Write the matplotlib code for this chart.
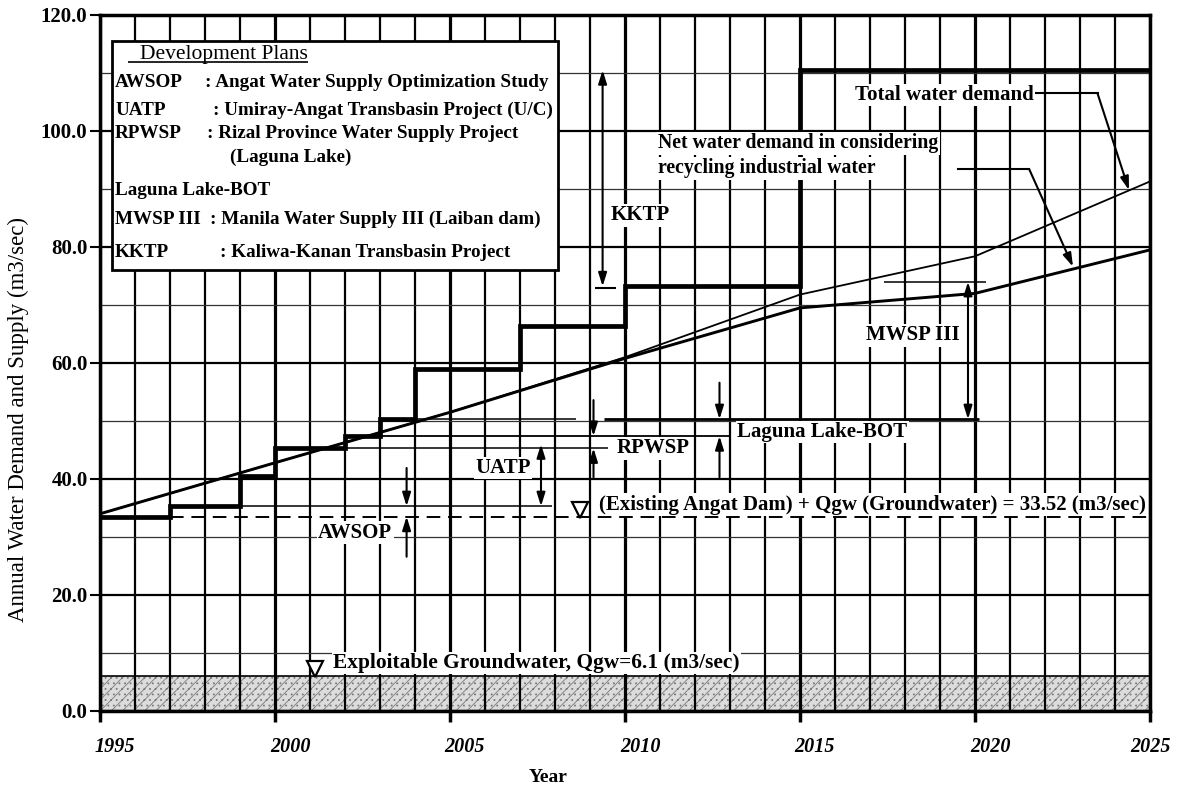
import matplotlib
matplotlib.use('Agg')
import matplotlib.pyplot as plt
import matplotlib.transforms as mtransforms
import matplotlib.patches as mpatches
import numpy as np

plt.rcParams['font.family'] = ['Liberation Serif', 'DejaVu Serif']
plt.rcParams['hatch.linewidth'] = 0.6

# ---------------- data ----------------
supply_edges = [1995, 1997, 1999, 2000, 2002, 2003, 2004, 2007, 2010, 2015, 2025]
supply_values = [33.52, 35.3, 40.5, 45.3, 47.4, 50.3, 59.0, 66.4, 73.2, 110.5]

demand_years = [1995, 2000, 2005, 2010, 2015, 2020, 2025]
total_demand = [34.0, 42.8, 51.5, 61.0, 71.8, 78.4, 91.3]
net_demand = [34.0, 42.8, 51.5, 60.8, 69.5, 72.0, 79.5]

existing_supply = 33.52
groundwater = 6.1

x_ticks = [1995, 2000, 2005, 2010, 2015, 2020, 2025]
x_tick_labels = ['1995', '2000', '2005', '2010', '2015', '2020', '2025']
y_ticks = [0, 20, 40, 60, 80, 100, 120]
y_tick_labels = ['0.0', '20.0', '40.0', '60.0', '80.0', '100.0', '120.0']

plan_codes = ['AWSOP', 'UATP', 'RPWSP', '', 'Laguna Lake-BOT', 'MWSP III', 'KKTP']
plan_names = [': Angat Water Supply Optimization Study',
              ': Umiray-Angat Transbasin Project (U/C)',
              ': Rizal Province Water Supply Project',
              '(Laguna Lake)',
              '',
              ': Manila Water Supply III (Laiban dam)',
              ': Kaliwa-Kanan Transbasin Project']

# plan capacity levels (lower, upper) drawn as arrows
kktp_range = (73.2, 110.5)
mwsp_range = (50.3, 74.0)
uatp_range = (35.3, 46.0)
awsop_range = (33.52, 35.3)
rpwsp_range = (45.3, 47.4)
laguna_range = (47.4, 50.3)

# ---------------- figure ----------------
fig = plt.figure(figsize=(11.81, 7.95), dpi=100)
ax = fig.add_axes([100 / 1181, 1 - 711 / 795, 1050 / 1181, 696 / 795])
ax.set_xlim(1995, 2025)
ax.set_ylim(0, 120)

ax.set_xticks(x_ticks)
ax.set_xticks(np.arange(1995, 2026), minor=True)
ax.set_yticks(y_ticks)
ax.set_yticks(np.arange(0, 121, 10), minor=True)
ax.set_xticklabels(x_tick_labels, fontsize=14.5, fontweight='bold', fontstyle='italic')
ax.set_yticklabels(y_tick_labels, fontsize=15, fontweight='bold')
ax.tick_params(axis='x', which='major', direction='out', length=8, width=2.5, pad=11)
ax.tick_params(axis='x', which='minor', length=0)
ax.tick_params(axis='y', which='major', direction='out', length=7, width=1.5, pad=2)
ax.tick_params(axis='y', which='minor', length=0)
ax.set_axisbelow(True)
ax.grid(True, which='major', axis='x', color='black', lw=2.3)
ax.grid(True, which='minor', axis='x', color='black', lw=1.6)
ax.grid(True, which='major', axis='y', color='black', lw=1.6)
ax.grid(True, which='minor', axis='y', color='#333333', lw=0.9)
for s in ax.spines.values():
    s.set_linewidth(2.5)

off = mtransforms.ScaledTranslation(0.15, 0, fig.dpi_scale_trans)
for lbl in ax.get_xticklabels()[:-1]:
    lbl.set_transform(lbl.get_transform() + off)

# groundwater band
ax.fill_between([1995, 2025], 0, groundwater, facecolor='#dcdcdc', edgecolor='#7a7a7a',
                hatch='///...', lw=0, zorder=0.3)
ax.hlines(groundwater, 1995, 2025, color='black', lw=1.2, zorder=0.6)

# supply and demand
ax.stairs(supply_values, supply_edges, baseline=None, color='black', lw=3.4, zorder=3)
ax.plot(demand_years, total_demand, color='black', lw=1.3, zorder=3)
ax.plot(demand_years, net_demand, color='black', lw=2.1, zorder=3)
ax.hlines(existing_supply, 1997, 2025, colors='black', linestyles=(0, (7, 4)), lw=1.4, zorder=2.5)

# level extension lines
ax.hlines(awsop_range[1], 1999.0, 2007.9, colors='black', lw=1.1, zorder=2)
ax.hlines(rpwsp_range[0], 2002.0, 2009.5, colors='black', lw=1.1, zorder=2)
ax.hlines(rpwsp_range[1], 2003.0, 2013.0, colors='black', lw=1.3, zorder=2)
ax.hlines(laguna_range[1], 2004.0, 2008.6, colors='black', lw=1.1, zorder=2)
ax.hlines(laguna_range[1], 2009.4, 2020.1, colors='black', lw=2.0, zorder=2)
ax.hlines(mwsp_range[1], 2017.4, 2020.3, colors='black', lw=1.1, zorder=2)
ax.hlines(72.9, 2009.15, 2009.75, colors='black', lw=1.5, zorder=2)

AP = dict(lw=1.5, color='black', shrinkA=0, shrinkB=0)
def dbl(x, lo, hi):
    ax.annotate('', xy=(x, hi), xytext=(x, lo),
                arrowprops=dict(arrowstyle='<|-|>,head_length=0.8,head_width=0.25', **AP), zorder=4)
def one(x0, y0, x1, y1):
    ax.annotate('', xy=(x1, y1), xytext=(x0, y0),
                arrowprops=dict(arrowstyle='-|>,head_length=0.8,head_width=0.25', **AP), zorder=4)

dbl(2009.36, *kktp_range)
dbl(2019.8, *mwsp_range)
dbl(2007.6, *uatp_range)
one(2003.76, 41.9, 2003.76, awsop_range[1])
one(2003.76, 26.6, 2003.76, awsop_range[0])
one(2009.1, 53.6, 2009.1, rpwsp_range[1])
one(2009.1, 40.3, 2009.1, rpwsp_range[0])
one(2012.7, 56.6, 2012.7, laguna_range[1])
one(2012.7, 40.3, 2012.7, laguna_range[0])

# triangles
ax.plot(2008.7, 34.7, marker='v', ms=12, mfc='white', mec='black', mew=1.6, zorder=5)
ax.plot(2001.14, 7.3, marker='v', ms=12, mfc='white', mec='black', mew=1.6, zorder=5)

WB = dict(facecolor='white', edgecolor='none', pad=1.0)
TB = dict(fontsize=15, fontweight='bold', zorder=5, bbox=WB)
ax.text(2009.6, 85.5, 'KKTP', ha='left', va='center', **TB)
ax.text(2019.55, 64.8, 'MWSP III', ha='right', va='center', **TB)
ax.text(2007.3, 41.9, 'UATP', ha='right', va='center', **TB)
ax.text(2003.35, 30.7, 'AWSOP', ha='right', va='center', **TB)
ax.text(2009.77, 45.3, 'RPWSP', ha='left', va='center', **TB)
ax.text(2013.2, 48.1, 'Laguna Lake-BOT', ha='left', va='center', **TB)
ax.text(2009.25, 35.6, '(Existing Angat Dam) + Qgw (Groundwater) = 33.52 (m3/sec)',
        ha='left', va='center', **TB)
ax.text(2001.66, 8.3, 'Exploitable Groundwater, Qgw=6.1 (m3/sec)', ha='left', va='center',
        fontsize=15.4, fontweight='bold', zorder=5, bbox=WB)

# demand annotations
ax.text(2016.57, 106.2, 'Total water demand', ha='left', va='center', **TB)
ax.plot([2021.55, 2023.5], [106.5, 106.5], color='black', lw=1.5, zorder=4)
one(2023.5, 106.5, 2024.4, 89.8)
NB = dict(fontsize=14.2, fontweight='bold', zorder=5, bbox=WB)
ax.text(2010.94, 97.9, 'Net water demand in considering', ha='left', va='center', **NB)
ax.text(2010.94, 93.6, 'recycling industrial water', ha='left', va='center', **NB)
ax.plot([2019.5, 2021.55], [93.4, 93.4], color='black', lw=1.5, zorder=4)
one(2021.55, 93.4, 2022.8, 76.6)

# legend box
ax.add_patch(mpatches.Rectangle((1995.34, 76.0), 2008.09 - 1995.34, 115.6 - 76.0,
                                facecolor='white', edgecolor='black', lw=2.0, zorder=6))
ax.text(1996.14, 112.5, 'Development Plans', ha='left', va='baseline', fontsize=15.5, zorder=7)
ax.hlines(111.95, 1995.8, 2000.95, colors='black', lw=1.2, zorder=7)
row_y = [108.4, 103.6, 99.5, 95.5, 89.8, 84.7, 79.1]
colon_x = [1998.0, 1998.23, 1998.06, 1998.71, 1998.43, 1998.14, 1998.43]
for code, name, yy, cx in zip(plan_codes, plan_names, row_y, colon_x):
    if code:
        ax.text(1995.43, yy, code, ha='left', va='center', fontsize=13.8, fontweight='bold', zorder=7)
    if name:
        ax.text(cx, yy, name, ha='left', va='center', fontsize=13.8, fontweight='bold', zorder=7)

ax.text(2007.8, -11.5, 'Year', ha='center', va='center', fontsize=14, fontweight='bold', clip_on=False)
fig.text(18 / 1181, 1 - 419 / 795, 'Annual Water Demand and Supply (m3/sec)', rotation=90,
         ha='center', va='center', fontsize=16.5)

fig.savefig('out.png', dpi=100)
